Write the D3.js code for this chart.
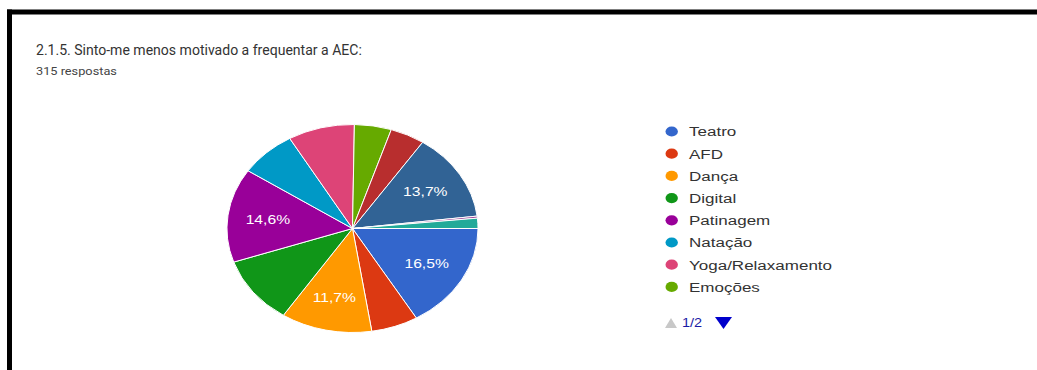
<!DOCTYPE html>
<html>
<head>
<meta charset="utf-8">
<script src="https://cdn.jsdelivr.net/npm/d3@7"></script>
<style>
  html, body { margin: 0; padding: 0; background: #fff; }
  svg { display: block; }
</style>
</head>
<body>
<div id="chart"></div>
<script>
// ---- data ----
const titleText = "2.1.5. Sinto-me menos motivado a frequentar a AEC:";
const subtitleText = "315 respostas";
const categories = ["Teatro", "AFD", "Dança", "Digital", "Patinagem", "Natação",
  "Yoga/Relaxamento", "Emoções", "Música", "Inglês", "Xadrez", "Outra"];
const values = [52, 19, 37, 33, 46, 23, 27, 15, 14, 43, 1, 5];
const legendPageSize = 8;
const pageLabel = "1/2";
const palette = ["#3366cc", "#dc3912", "#ff9900", "#109618", "#990099", "#0099c6",
  "#dd4477", "#66aa00", "#b82e2e", "#316395", "#994499", "#22aa99"];

// ---- layout ----
const W = 1037, H = 370;
const sx = 1.207;           // horizontal stretch of the screenshot
const cx = 352.5, cy = 228.5, R = 104;

const svg = d3.select("#chart").append("svg")
  .attr("width", W).attr("height", H);
svg.append("rect").attr("width", W).attr("height", H).attr("fill", "#fff");

// frame (black top and left edges)
svg.append("rect").attr("x", 7).attr("y", 9.5).attr("width", W - 7).attr("height", 5).attr("fill", "#000");
svg.append("rect").attr("x", 7).attr("y", 9.5).attr("width", 5).attr("height", H - 9.5).attr("fill", "#000");

// title & subtitle, fitted to the widths seen in the reference
const title = svg.append("text")
  .attr("font-family", "Roboto, Arial, sans-serif")
  .attr("font-size", 14)
  .attr("fill", "#333")
  .text(titleText);
const tw = title.node().getComputedTextLength();
title.attr("transform", `translate(36,55) scale(${326 / tw},1)`);

const sub = svg.append("text")
  .attr("font-family", "Roboto, Arial, sans-serif")
  .attr("font-size", 10.5)
  .attr("fill", "#444")
  .text(subtitleText);
const sw = sub.node().getComputedTextLength();
sub.attr("transform", `translate(36,74.5) scale(${81 / sw},1)`);

// pie
const color = d3.scaleOrdinal().domain(categories).range(palette);
const total = d3.sum(values);
const data = categories.map((c, i) => ({ name: c, value: values[i] }));
const pie = d3.pie().value(d => d.value).sort(null)
  .startAngle(Math.PI / 2).endAngle(Math.PI / 2 + 2 * Math.PI);
const arcs = pie(data);
const arc = d3.arc().innerRadius(0).outerRadius(R);
const labelArc = d3.arc().innerRadius(R * 0.68).outerRadius(R * 0.68);

const g = svg.append("g").attr("transform", `translate(${cx},${cy}) scale(${sx},1)`);
g.selectAll("path.slice").data(arcs).enter().append("path")
  .attr("class", "slice")
  .attr("d", arc)
  .attr("fill", d => color(d.data.name))
  .attr("stroke", "#fff")
  .attr("stroke-width", 1)
  .attr("vector-effect", "non-scaling-stroke");

const fmt = v => (Math.round(v * 1000) / 10).toFixed(1).replace(".", ",") + "%";
g.selectAll("text.pl").data(arcs.filter(d => d.data.value / total > 0.11)).enter().append("text")
  .attr("class", "pl")
  .attr("transform", d => `translate(${labelArc.centroid(d)})`)
  .attr("text-anchor", "middle")
  .attr("dy", "0.35em")
  .attr("font-family", "Arial, 'Liberation Sans', sans-serif")
  .attr("font-size", 13)
  .attr("fill", "#fff")
  .text(d => fmt(d.data.value / total));

// legend
const legY = d3.scalePoint().domain(categories.slice(0, legendPageSize))
  .range([131.5, 131.5 + 22.2 * (legendPageSize - 1)]);
const leg = svg.append("g");
const items = leg.selectAll("g.li").data(categories.slice(0, legendPageSize)).enter().append("g")
  .attr("class", "li")
  .attr("transform", d => `translate(0,${legY(d)})`);
items.append("ellipse").attr("cx", 671.7).attr("cy", 0).attr("rx", 6.2).attr("ry", 5.1)
  .attr("fill", d => color(d));
items.append("text")
  .attr("transform", `translate(689,0) scale(1.26,1)`)
  .attr("dy", "0.36em")
  .attr("font-family", "Arial, 'Liberation Sans', sans-serif")
  .attr("font-size", 13.5)
  .attr("fill", "#333")
  .text(d => d);

// pagination
const py = 323;
svg.append("path").attr("d", `M665,${py + 5} L671,${py - 5} L677,${py + 5} Z`).attr("fill", "#c8c8c8");
svg.append("text")
  .attr("transform", `translate(682,${py}) scale(${sx},1)`)
  .attr("dy", "0.36em")
  .attr("font-family", "Arial, 'Liberation Sans', sans-serif")
  .attr("font-size", 12)
  .attr("fill", "#1a1aa6")
  .text(pageLabel);
svg.append("path").attr("d", `M715,${py - 6} L732,${py - 6} L723.5,${py + 6} Z`).attr("fill", "#0000cc");
</script>
</body>
</html>
